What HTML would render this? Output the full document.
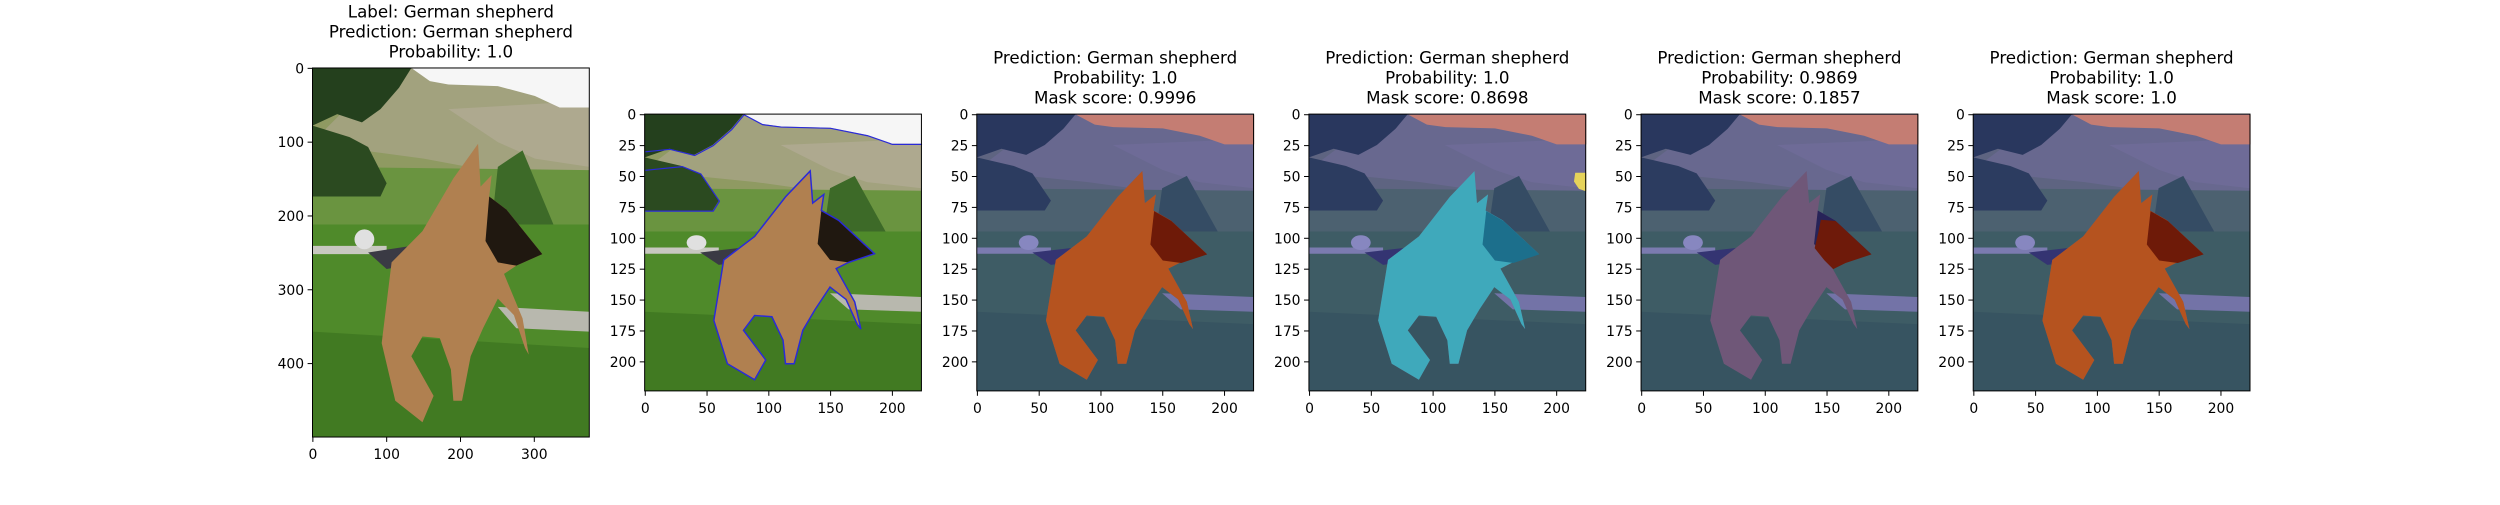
<!DOCTYPE html>
<html><head><meta charset="utf-8">
<style>
html,body{margin:0;padding:0;background:#fff;}
svg text{font-family:"DejaVu Sans","Liberation Sans",sans-serif;fill:#000;}
</style></head>
<body>
<svg id="fig" xmlns="http://www.w3.org/2000/svg" width="2500" height="500" viewBox="0 0 2500 500">
<defs>
<symbol id="scene" viewBox="0 0 224 224" preserveAspectRatio="none">
  <rect x="0" y="0" width="224" height="224" fill="#5a8a30"/>
  <rect x="0" y="0" width="224" height="70" fill="#8f9a62"/>
  <polygon points="60,0 224,0 224,70 140,62 90,55 40,50 0,45" fill="#a2a27e"/>
  <polygon points="110,25 224,20 224,60 180,55 150,45" fill="#aea98f"/>
  <polygon points="0,60 224,62 224,95 0,95" fill="#6a9440"/>
  <polygon points="0,0 80,0 70,12 55,25 40,33 20,28 0,35" fill="#24401d"/>
  <polygon points="0,35 30,42 45,48 60,70 55,78 0,78" fill="#2b4a20"/>
  <polygon points="150,60 170,50 195,95 200,125 160,130 145,95" fill="#3d6a28"/>
  <polygon points="0,95 224,95 224,224 0,224" fill="#4f8a2a"/>
  <polygon points="0,160 224,170 224,224 0,224" fill="#417a22"/>
  <polygon points="150,145 224,148 224,160 165,158" fill="#b8b8ae"/>
  <polygon points="0,108 60,108 60,113 0,113" fill="#c8c8c0"/>
  <ellipse cx="42" cy="104" rx="8" ry="6" fill="#e0e0e0"/>
  <polygon points="45,112 80,108 90,118 60,122" fill="#3a3a44"/>
  <polygon points="80,0 224,0 224,24 200,24 180,17 150,11 110,10 95,8" fill="#f6f6f6"/>
  <polygon points="134,46 114,67 89,99 64,118 56,167 67,202 89,215 98,199 80,175 89,163 103,164 112,183 114,202 121,202 128,175 138,158 150,140 163,150 172,170 175,174 170,152 155,125 165,120 186,113 157,86 143,78 145,65 136,72" fill="#b08050"/>
  <polygon points="143,78 157,86 186,113 165,120 150,118 140,105" fill="#201810"/>
</symbol>
<symbol id="dogshape" viewBox="0 0 224 224" preserveAspectRatio="none">
  <polygon points="134,46 114,67 89,99 64,118 56,167 67,202 89,215 98,199 80,175 89,163 103,164 112,183 114,202 121,202 128,175 138,158 150,140 163,150 172,170 175,174 170,152 155,125 165,120 186,113 157,86 143,78 145,65 136,72"/>
</symbol>
</defs>
<g id="panels"></g>
</svg>
<script>
const titles = [
  ["Label: German shepherd","Prediction: German shepherd","Probability: 1.0"],
  [],
  ["Prediction: German shepherd","Probability: 1.0","Mask score: 0.9996"],
  ["Prediction: German shepherd","Probability: 1.0","Mask score: 0.8698"],
  ["Prediction: German shepherd","Probability: 0.9869","Mask score: 0.1857"],
  ["Prediction: German shepherd","Probability: 1.0","Mask score: 1.0"]
];
const imgW = [375,224,224,224,224,224];
const imgH = [500,224,224,224,224,224];
const xTicks1 = [0,100,200,300];
const yTicks1 = [0,100,200,300,400];
const xTicks2 = [0,50,100,150,200];
const yTicks2 = [0,25,50,75,100,125,150,175,200];
const overlays = ["none","contour","orange","cyan","head","orange"];

const NS="http://www.w3.org/2000/svg";
const root=document.getElementById('panels');
function mk(tag,attrs,parent){const e=document.createElementNS(NS,tag);for(const k in attrs)e.setAttribute(k,attrs[k]);(parent||root).appendChild(e);return e;}
const figL=312.5, figR=2250, figT=60, figB=445, n=6, ws=0.2;
const axW=(figR-figL)/(n+(n-1)*ws), gap=axW*ws;
for(let i=0;i<n;i++){
  const g=mk('g',{});
  
  
  const w=axW, h=axW*imgH[i]/imgW[i];
  const left=figL+i*(axW+gap), top=(figT+figB)/2-h/2, bottom=top+h;
  const xs=v=>left+(v+0.5)/imgW[i]*w, ys=v=>top+(v+0.5)/imgH[i]*h;
  const im=mk('use',{href:'#scene',x:left,y:top,width:w,height:h},g);
  
  
  const ov=overlays[i];
  if(ov==='contour'){
    const c=mk('use',{href:'#dogshape',x:left,y:top,width:w,height:h,fill:'none',stroke:'#2a2ad8','stroke-width':1.2},g);
    
    
    mk('polyline',{points:[[80,0],[95,8],[110,10],[150,11],[180,17],[200,24],[224,24]].map(p=>xs(p[0])+','+ys(p[1])).join(' '),fill:'none',stroke:'#2a2ad8','stroke-width':1.2},g);
    mk('polyline',{points:[[0,30],[20,28],[40,33],[55,25],[70,12],[80,0]].map(p=>xs(p[0])+','+ys(p[1])).join(' '),fill:'none',stroke:'#2a2ad8','stroke-width':1.2},g);
    mk('polyline',{points:[[0,45],[30,42],[45,48],[60,70],[55,78],[0,78]].map(p=>xs(p[0])+','+ys(p[1])).join(' '),fill:'none',stroke:'#2a2ad8','stroke-width':1.2},g);
  } else if(ov!=='none'){
    const t=mk('rect',{x:left,y:top,width:w,height:h,fill:'#2e2ea0','fill-opacity':0.5},g);
    
    
    const sky=mk('polygon',{points:[[80,0],[224,0],[224,24],[200,24],[180,17],[150,11],[110,10],[95,8]].map(p=>xs(p[0])+','+ys(p[1])).join(' '),fill:'#c47d73'},g);
    
    
    if(ov==='orange'||ov==='cyan'){
      const col=ov==='orange'?'#b5531f':'#3fa9bb', headCol=ov==='orange'?'#6e1a08':'#1c6f8c';
      const d=mk('use',{href:'#dogshape',x:left,y:top,width:w,height:h,fill:col},g);
      
      
      mk('polygon',{points:[[143,78],[157,86],[186,113],[165,120],[150,118],[140,105]].map(p=>xs(p[0])+','+ys(p[1])).join(' '),fill:headCol},g);
    }
    if(ov==='cyan'){
      mk('polygon',{points:[[215,47],[224,47],[224,62],[218,60],[214,54]].map(p=>xs(p[0])+','+ys(p[1])).join(' '),fill:'#e6d35a'},g);
    }
    if(ov==='head'){
      const hd=mk('polygon',{points:[[145,85],[157,86],[186,113],[165,120],[155,125],[148,118],[140,108],[143,95]].map(p=>xs(p[0])+','+ys(p[1])).join(' '),fill:'#6e1a0a'},g);
      
      
    }
  }
  const fr=mk('rect',{x:left,y:top,width:w,height:h,fill:'none',stroke:'#000','stroke-width':1},g);
  
  
  const xt=i===0?xTicks1:xTicks2, yt=i===0?yTicks1:yTicks2;
  xt.forEach(v=>{
    const x=xs(v);
    mk('line',{x1:x,y1:bottom,x2:x,y2:bottom+4.9,stroke:'#000','stroke-width':1},g);
    const t=mk('text',{x:x,y:bottom+22,'text-anchor':'middle','font-size':13.9},g);
    t.textContent=v;
    
    
  });
  yt.forEach(v=>{
    const y=ys(v);
    mk('line',{x1:left,y1:y,x2:left-4.9,y2:y,stroke:'#000','stroke-width':1},g);
    const t=mk('text',{x:left-8.4,y:y+5,'text-anchor':'end','font-size':13.9},g);
    t.textContent=v;
    
    
  });
  const tl=titles[i];
  tl.forEach((s,k)=>{
    const t=mk('text',{x:left+w/2,y:top-10.5-(tl.length-1-k)*20,'text-anchor':'middle','font-size':16.7},g);
    t.textContent=s;
    
    
  });
}
</script>
</body></html>
